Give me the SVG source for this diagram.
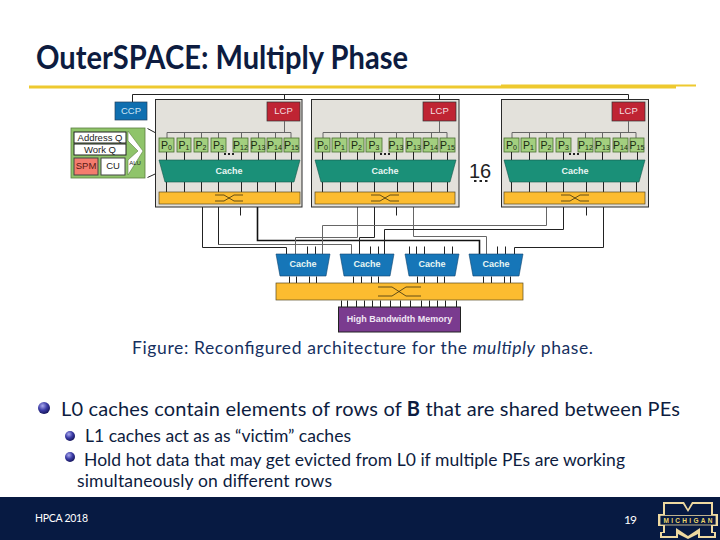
<svg xmlns="http://www.w3.org/2000/svg" width="720" height="540" viewBox="0 0 720 540">
<style>
.t{font-family:Lato,"Open Sans","Liberation Sans",sans-serif;fill:#0d1c40}
.d{font-family:"Liberation Sans",Arial,sans-serif}
.tile{fill:#e3e1db;stroke:#2a2a2a;stroke-width:1}
.lcp{fill:#bf2433;stroke:#333;stroke-width:.7}
.pe{fill:#a3cf7f;stroke:#4a6e30;stroke-width:.8}
.pl{font-size:10.5px;fill:#1c2a12;text-anchor:middle}
.pl tspan{font-size:7px}
.tc{fill:#1a9078;stroke:#14584a;stroke-width:.6}
.bc{fill:#1676b8;stroke:#10456e;stroke-width:.6}
.bar{fill:#fcbc30;stroke:#5a4a20;stroke-width:.7}
.wl{font-size:9px;font-weight:bold;fill:#e8f6f4;text-anchor:middle}
.lt{font-size:9.5px;fill:#f4dfe0;text-anchor:middle}
.w{fill:none;stroke:#222;stroke-width:1}
.g{fill:none;stroke:#666;stroke-width:1}
.k{fill:none;stroke:#111;stroke-width:1.6}
.sw{fill:none;stroke:#3a3010;stroke-width:.8}
.dot{fill:#222}
</style>
<defs>
<radialGradient id="ball" cx=".38" cy=".32" r=".75"><stop offset="0" stop-color="#a9a9ee"/><stop offset=".5" stop-color="#3c3ca6"/><stop offset="1" stop-color="#0e0e4e"/></radialGradient>
</defs>
<rect width="720" height="540" fill="#fff"/>
<g id="title">
<text class="t" x="36" y="69" font-size="32" font-weight="bold" textLength="372" lengthAdjust="spacingAndGlyphs">OuterSPACE: Multiply Phase</text>
<path d="M29 87H676" stroke="#eec92f" stroke-width="3"/>
<path d="M501 85.500H696" stroke="#eec92f" stroke-width="2"/>
</g>
<g id="connectors" transform="translate(.5 .5)">
<path class="w" d="M132 102V94H628V102M284 94V102M439 94V102"/>
<path class="w" d="M202 204V247H286V254"/>
<path class="g" d="M218 204V244H351V254"/>
<path class="w" d="M218 204V244"/>
<path class="k" d="M257 204V240H479V254"/>
<path class="w" d="M240 204V215"/>
<path class="g" d="M357 204V237H295V254"/>
<path class="w" d="M374 204V237H359V254"/>
<path class="w" d="M396 204V215"/>
<path class="g" d="M413 204V236H486V254"/>
<path class="g" d="M546 204V225H322V254"/>
<path class="w" d="M563 204V229H384V254"/>
<path class="w" d="M586 204V215"/>
<path class="w" d="M603 204V247H514V254"/>
<path class="w" d="M307 246V254M315 246V254M370 246V254M378 246V254M409 246V254M416 246V254M424 246V254M444 246V254M452 246V254M497 246V254M505 246V254"/>
<path class="w" d="M289 276V283M296 276V283M309 276V283M316 276V283M353 276V283M361 276V283M371 276V283M378 276V283M417 276V283M424 276V283M437 276V283M444 276V283M483 276V283M491 276V283M504 276V283M510 276V283"/>
<path class="w" d="M341 300V307M347 300V307M356 300V307M364 300V307M372 300V307M380 300V307M390 300V307M400 300V307M410 300V307M421 300V307M429 300V307M437 300V307M445 300V307M456 300V307"/>
<path class="w" d="M147 128L160 135M147 177L160 171"/>
</g>
<g id="detail">
<rect x="71" y="128" width="74" height="50" fill="#8fc46a" stroke="#5a7e40" stroke-width=".8"/>
<rect x="74" y="132" width="52" height="11" fill="#fff" stroke="#222"/>
<rect x="74" y="144" width="52" height="11" fill="#fff" stroke="#222"/>
<rect x="74" y="158" width="24" height="17" fill="#f47c6e" stroke="#444"/>
<rect x="101" y="158" width="24" height="17" fill="#fff" stroke="#444"/>
<path d="M128 131L143 151L128 175V160L138 151L128 141Z" fill="#fff" stroke="#5a7e40" stroke-width=".6"/>
<text class="d" x="100" y="141" font-size="9.500" text-anchor="middle" fill="#222">Address Q</text>
<text class="d" x="100" y="153" font-size="9.500" text-anchor="middle" fill="#222">Work Q</text>
<text class="d" x="86" y="169" font-size="9.500" text-anchor="middle" fill="#5a1a14">SPM</text>
<text class="d" x="113" y="169" font-size="9.500" text-anchor="middle" fill="#222">CU</text>
<text class="d" x="135" y="165" font-size="6" text-anchor="middle" fill="#222">ALU</text>
</g>
<g id="ccp">
<rect x="115" y="102" width="32" height="18" fill="#0f6fb0" stroke="#23415e" stroke-width=".7"/>
<text class="d" x="131" y="114" font-size="9.500" text-anchor="middle" fill="#cfe6f6">CCP</text>
</g>
<g id="tile1">
<rect class="tile" x="155.500" y="99.500" width="146.500" height="107.500"/>
<rect class="lcp" x="267" y="102" width="33" height="19"/>
<text class="d lt" x="283.500" y="114">LCP</text>
<path class="g" d="M284.500 121V132.500M167 138V132.500H291V138M184.500 132V138M201.500 132V138M218.500 132V138M241.500 132V138M258.500 132V138M275.500 132V138"/>
<g class="d">
<rect class="pe" x="159" y="138" width="15" height="14"/><text class="pl" x="166.500" y="149">P<tspan dy="1">0</tspan></text>
<rect class="pe" x="177" y="138" width="14" height="14"/><text class="pl" x="184" y="149">P<tspan dy="1">1</tspan></text>
<rect class="pe" x="194" y="138" width="14" height="14"/><text class="pl" x="201" y="149">P<tspan dy="1">2</tspan></text>
<rect class="pe" x="211" y="138" width="15" height="14"/><text class="pl" x="218.500" y="149">P<tspan dy="1">3</tspan></text>
<rect class="pe" x="233" y="138" width="15" height="14"/><text class="pl" x="240.500" y="149">P<tspan dy="1">12</tspan></text>
<rect class="pe" x="251" y="138" width="14" height="14"/><text class="pl" x="258" y="149">P<tspan dy="1">13</tspan></text>
<rect class="pe" x="267" y="138" width="15" height="14"/><text class="pl" x="274.500" y="149">P<tspan dy="1">14</tspan></text>
<rect class="pe" x="284" y="138" width="15" height="14"/><text class="pl" x="291.500" y="149">P<tspan dy="1">15</tspan></text>
</g>
<path class="w" d="M166.500 152V160M184.500 152V160M201.500 152V160M218.500 152V160M241.500 152V160M258.500 152V160M275.500 152V160M291.500 152V160M166.500 182V192M184.500 182V192M201.500 182V192M218.500 182V192M241.500 182V192M257.500 182V192M275.500 182V192M291.500 182V192"/>
<path class="dot" d="M224 153h2v2h-2zM228 153h2v2h-2zM232 153h2v2h-2z"/>
<path class="tc" d="M159 160H300L294 182H165Z"/>
<text class="d wl" x="229" y="174">Cache</text>
<rect class="bar" x="159" y="192" width="141" height="12"/>
<path class="sw" d="M215 195H224L234 201H243M215 201H224L234 195H243"/>
</g>
<g id="tile2">
<rect class="tile" x="311.500" y="99.500" width="147.500" height="107.500"/>
<rect class="lcp" x="423" y="102" width="33" height="19"/>
<text class="d lt" x="439.500" y="114">LCP</text>
<path class="g" d="M439.500 121V132.500M323 138V132.500H447V138M340.500 132V138M357.500 132V138M374.500 132V138M396.500 132V138M413.500 132V138M431.500 132V138"/>
<g class="d">
<rect class="pe" x="315" y="138" width="15" height="14"/><text class="pl" x="322.500" y="149">P<tspan dy="1">0</tspan></text>
<rect class="pe" x="332" y="138" width="15" height="14"/><text class="pl" x="339.500" y="149">P<tspan dy="1">1</tspan></text>
<rect class="pe" x="349" y="138" width="15" height="14"/><text class="pl" x="356.500" y="149">P<tspan dy="1">2</tspan></text>
<rect class="pe" x="366" y="138" width="16" height="14"/><text class="pl" x="374" y="149">P<tspan dy="1">3</tspan></text>
<rect class="pe" x="389" y="138" width="14" height="14"/><text class="pl" x="396" y="149">P<tspan dy="1">13</tspan></text>
<rect class="pe" x="406" y="138" width="15" height="14"/><text class="pl" x="413.500" y="149">P<tspan dy="1">13</tspan></text>
<rect class="pe" x="423" y="138" width="15" height="14"/><text class="pl" x="430.500" y="149">P<tspan dy="1">14</tspan></text>
<rect class="pe" x="440" y="138" width="15" height="14"/><text class="pl" x="447.500" y="149">P<tspan dy="1">15</tspan></text>
</g>
<path class="w" d="M322.500 152V160M340.500 152V160M357.500 152V160M374.500 152V160M396.500 152V160M413.500 152V160M431.500 152V160M447.500 152V160M322.500 182V192M340.500 182V192M357.500 182V192M374.500 182V192M397.500 182V192M413.500 182V192M431.500 182V192M447.500 182V192"/>
<path class="dot" d="M380 153h2v2h-2zM384 153h2v2h-2zM388 153h2v2h-2z"/>
<path class="tc" d="M315 160H456L450 182H321Z"/>
<text class="d wl" x="385" y="174">Cache</text>
<rect class="bar" x="315" y="192" width="140" height="12"/>
<path class="sw" d="M371 195H380L390 201H399M371 201H380L390 195H399"/>
</g>
<g id="count">
<text class="d" x="480" y="178" font-size="20" text-anchor="middle" fill="#222">16</text>
<path class="dot" d="M474 180h2.500v2h-2.500zM479.500 180h2.500v2h-2.500zM485 180h2.500v2h-2.500z"/>
</g>
<g id="tile3">
<rect class="tile" x="501.500" y="99.500" width="147" height="107.500"/>
<rect class="lcp" x="612" y="102" width="33" height="19"/>
<text class="d lt" x="628.500" y="114">LCP</text>
<path class="g" d="M628.500 121V132.500M512 138V132.500H636V138M529.500 132V138M546.500 132V138M563.500 132V138M585.500 132V138M602.500 132V138M620.500 132V138"/>
<g class="d">
<rect class="pe" x="504" y="138" width="15" height="14"/><text class="pl" x="511.500" y="149">P<tspan dy="1">0</tspan></text>
<rect class="pe" x="521" y="138" width="15" height="14"/><text class="pl" x="528.500" y="149">P<tspan dy="1">1</tspan></text>
<rect class="pe" x="539" y="138" width="14" height="14"/><text class="pl" x="546" y="149">P<tspan dy="1">2</tspan></text>
<rect class="pe" x="556" y="138" width="15" height="14"/><text class="pl" x="563.500" y="149">P<tspan dy="1">3</tspan></text>
<rect class="pe" x="578" y="138" width="15" height="14"/><text class="pl" x="585.500" y="149">P<tspan dy="1">12</tspan></text>
<rect class="pe" x="595" y="138" width="15" height="14"/><text class="pl" x="602.500" y="149">P<tspan dy="1">13</tspan></text>
<rect class="pe" x="613" y="138" width="15" height="14"/><text class="pl" x="620.500" y="149">P<tspan dy="1">14</tspan></text>
<rect class="pe" x="630" y="138" width="14" height="14"/><text class="pl" x="637" y="149">P<tspan dy="1">15</tspan></text>
</g>
<path class="w" d="M511.500 152V160M529.500 152V160M546.500 152V160M563.500 152V160M585.500 152V160M602.500 152V160M620.500 152V160M637.500 152V160M511.500 182V192M529.500 182V192M546.500 182V192M563.500 182V192M586.500 182V192M603.500 182V192M620.500 182V192M636.500 182V192"/>
<path class="dot" d="M569 153h2v2h-2zM573 153h2v2h-2zM577 153h2v2h-2z"/>
<path class="tc" d="M504 160H645L639 182H510Z"/>
<text class="d wl" x="575" y="174">Cache</text>
<rect class="bar" x="504" y="192" width="141" height="12"/>
<path class="sw" d="M561 195H570L580 201H589M561 201H570L580 195H589"/>
</g>
<g id="l1a"><path class="bc" d="M276 254H330L326 276H280Z"/><text class="d wl" x="303" y="267">Cache</text></g>
<g id="l1b"><path class="bc" d="M340 254H394L390 276H344Z"/><text class="d wl" x="367" y="267">Cache</text></g>
<g id="l1c"><path class="bc" d="M405 254H459L455 276H409Z"/><text class="d wl" x="432" y="267">Cache</text></g>
<g id="l1d"><path class="bc" d="M469 254H523L519 276H473Z"/><text class="d wl" x="496" y="267">Cache</text></g>
<g id="xbar">
<rect class="bar" x="276" y="283" width="247" height="17"/>
<path class="sw" d="M378 287H392L406 296H421M378 296H392L406 287H421"/>
</g>
<g id="hbm">
<rect x="338.500" y="307" width="122" height="25" fill="#7a3b8f" stroke="#222" stroke-width="1"/>
<text class="d" x="399.500" y="321.500" font-size="9" font-weight="bold" text-anchor="middle" fill="#f0e6f4">High Bandwidth Memory</text>
</g>
<g id="text">
<text class="t" x="132" y="354" font-size="17.500" textLength="461" style="fill:#16305f">Figure: Reconfigured architecture for the <tspan font-style="italic">multiply</tspan> phase.</text>
<circle cx="44" cy="408" r="6" fill="url(#ball)"/>
<text class="t" x="61" y="416" font-size="20" textLength="619">L0 caches contain elements of rows of <tspan font-weight="bold">B</tspan> that are shared between PEs</text>
<circle cx="70" cy="436" r="5" fill="url(#ball)"/>
<text class="t" x="85" y="442" font-size="17.500" textLength="266">L1 caches act as as “victim” caches</text>
<circle cx="70" cy="457" r="5" fill="url(#ball)"/>
<text class="t" x="84" y="466" font-size="17.500" textLength="541">Hold hot data that may get evicted from L0 if multiple PEs are working</text>
<text class="t" x="77" y="487" font-size="17.500" textLength="255">simultaneously on different rows</text>
</g>
<g id="footer">
<rect x="0" y="497" width="720" height="43" fill="#071a42"/>
<text class="t" x="35" y="522" font-size="10.500" textLength="53" style="fill:#fff">HPCA 2018</text>
<text class="t" x="624" y="523.500" font-size="12" textLength="13" style="fill:#fff">19</text>
</g>
<g id="logo">
<path d="M663 502H684L688 509L692 502H713V514H718V526H713V532H716V538H698V534L688 539L678 534V538H660V532H663V526H658V514H663Z" fill="#eed9a0"/>
<path d="M665 504H683L688 512L693 504H711V515H716V525H711V533H714V536H700V528L688 536L676 528V536H662V533H665V525H660V515H665Z" fill="#071a42"/>
<rect x="660" y="515.500" width="56" height="9.500" fill="#071a42" stroke="#eed9a0" stroke-width=".8"/>
<text class="d" x="688" y="522.500" font-size="6.500" font-weight="bold" text-anchor="middle" textLength="49" fill="#eed56a">MICHIGAN</text>
</g>
</svg>
